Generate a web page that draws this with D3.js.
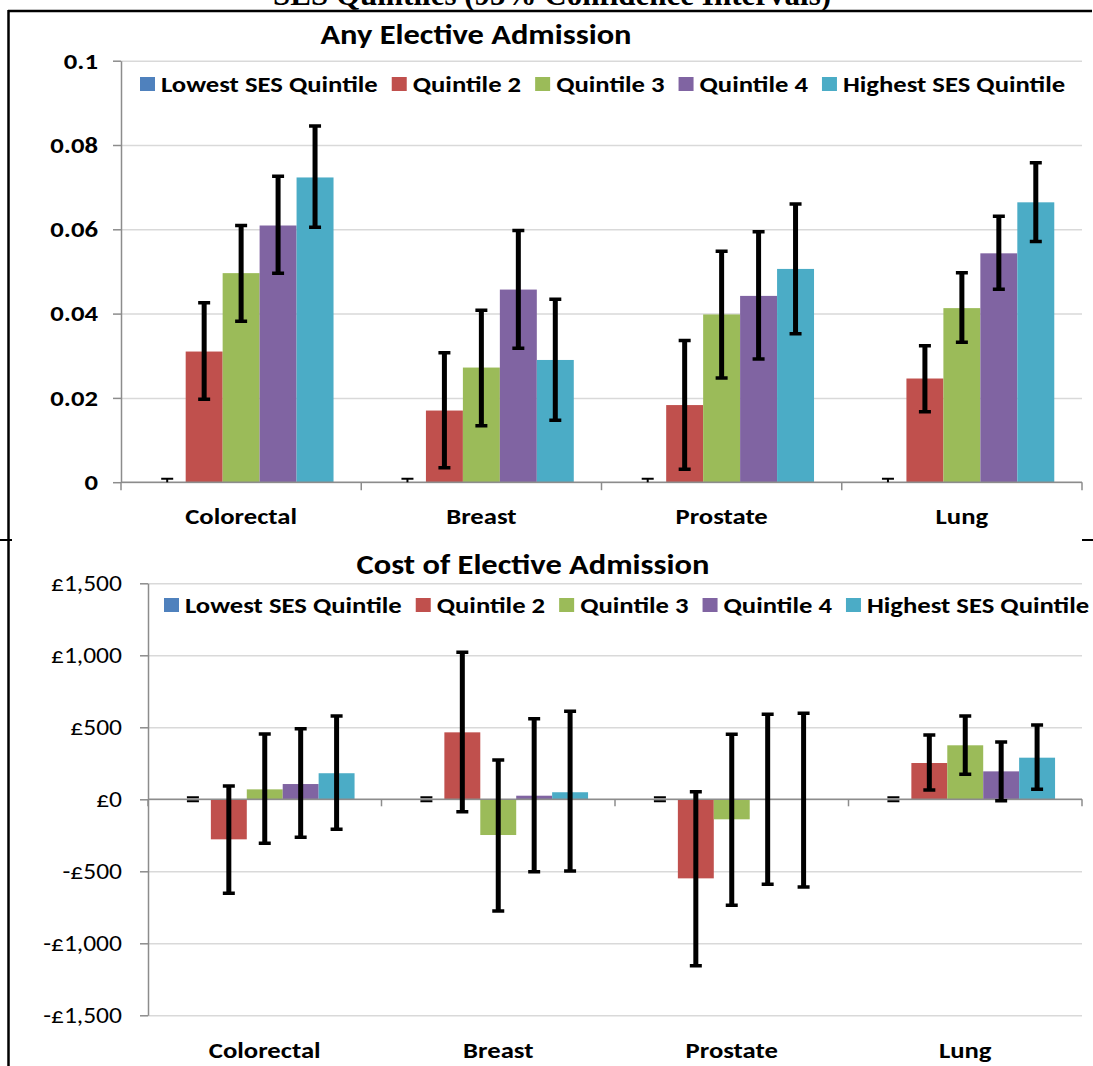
<!DOCTYPE html>
<html>
<head>
<meta charset="utf-8">
<script src="https://cdn.jsdelivr.net/npm/d3@7"></script>
<style>
  body { margin: 0; background: #fff; }
  svg { display: block; }
  text { font-family: Carlito, Calibri, Lato, sans-serif; fill: #000; }
</style>
</head>
<body>
<div id="chart"></div>
<script>
// categories and series
const categories = ["Colorectal", "Breast", "Prostate", "Lung"];
const seriesNames = ["Lowest SES Quintile", "Quintile 2", "Quintile 3", "Quintile 4", "Highest SES Quintile"];
const seriesColors = ["#4F81BD", "#C0504D", "#9BBB59", "#8064A2", "#4BACC6"];

// any elective admission (one row per series, one value per category)
const admitValues = [
  [0, 0, 0, 0],
  [0.0310, 0.0170, 0.0183, 0.0246],
  [0.0496, 0.0272, 0.0398, 0.0413],
  [0.0609, 0.0457, 0.0442, 0.0543],
  [0.0723, 0.0290, 0.0506, 0.0664]
];
const admitLow = [
  [-0.0008, -0.0008, -0.0008, -0.0008],
  [0.0197, 0.0034, 0.0031, 0.0167],
  [0.0382, 0.0134, 0.0247, 0.0332],
  [0.0496, 0.0318, 0.0292, 0.0458],
  [0.0605, 0.0147, 0.0352, 0.0571]
];
const admitHigh = [
  [0.0008, 0.0008, 0.0008, 0.0008],
  [0.0426, 0.0307, 0.0336, 0.0324],
  [0.0609, 0.0408, 0.0548, 0.0497],
  [0.0726, 0.0597, 0.0594, 0.0631],
  [0.0845, 0.0434, 0.0660, 0.0758]
];
const admitTicks = [0, 0.02, 0.04, 0.06, 0.08, 0.1];

// cost of elective admission
const costValues = [
  [0, 0, 0, 0],
  [-278, 465, -549, 252],
  [69, -248, -139, 375],
  [106, 25, -4, 194],
  [181, 49, -4, 289]
];
const costLow = [
  [-14, -14, -14, -14],
  [-653, -86, -1156, 65],
  [-306, -776, -736, 174],
  [-264, -503, -590, -10],
  [-208, -498, -609, 69]
];
const costHigh = [
  [14, 14, 14, 14],
  [92, 1021, 53, 447],
  [453, 273, 451, 578],
  [490, 560, 590, 398],
  [578, 611, 597, 516]
];
const costTicks = [-1500, -1000, -500, 0, 500, 1000, 1500];

// the source text is a little wider than Carlito, so stretch it sideways
const widen = 1.16;
function stretch(sel) {
  sel.each(function() {
    const w = this.getComputedTextLength();
    d3.select(this).attr("textLength", w * widen).attr("lengthAdjust", "spacingAndGlyphs");
  });
}

const svg = d3.select("#chart")
  .append("svg")
  .attr("width", 1093)
  .attr("height", 1066);

// page heading, cut off by the top of the picture
svg.append("text")
  .attr("x", 552)
  .attr("y", 5)
  .attr("text-anchor", "middle")
  .style("font-family", "'Liberation Serif', 'Times New Roman', serif")
  .style("font-weight", "bold")
  .style("font-size", "31px")
  .text("SES Quintiles (95% Confidence Intervals)");

// frame lines
svg.append("line").attr("x1", 8).attr("x2", 1092).attr("y1", 11).attr("y2", 11)
  .attr("stroke", "#000").attr("stroke-width", 2.5);
svg.append("line").attr("x1", 8.5).attr("x2", 8.5).attr("y1", 10).attr("y2", 1066)
  .attr("stroke", "#000").attr("stroke-width", 2.5);
svg.append("line").attr("x1", 0).attr("x2", 12).attr("y1", 540).attr("y2", 540)
  .attr("stroke", "#000").attr("stroke-width", 2);
svg.append("line").attr("x1", 1082).attr("x2", 1093).attr("y1", 540).attr("y2", 540)
  .attr("stroke", "#000").attr("stroke-width", 2);

function drawPanel(cfg) {
  const g = svg.append("g");

  const x0 = d3.scaleBand().domain(categories).range([cfg.left, cfg.right]);
  const bw = x0.bandwidth();
  const x1 = d3.scaleBand().domain(seriesNames)
    .range([bw * 0.75 / 6.5, bw * 5.75 / 6.5]);
  const y = d3.scaleLinear().domain(cfg.domain).range([cfg.bottom, cfg.top]);

  // gridlines
  g.append("g")
    .attr("transform", `translate(${cfg.left},0)`)
    .call(d3.axisLeft(y).tickValues(cfg.ticks).tickSize(-(cfg.right - cfg.left)).tickFormat(""))
    .call(a => a.select(".domain").remove())
    .call(a => a.selectAll("line").attr("stroke", "#d9d9d9").attr("stroke-width", 1.5));

  // y axis
  g.append("g")
    .attr("transform", `translate(${cfg.left},0)`)
    .call(d3.axisLeft(y).tickValues(cfg.ticks).tickSize(8).tickSizeOuter(0)
      .tickPadding(cfg.tickPad).tickFormat(cfg.format))
    .call(a => a.select(".domain").attr("stroke", "#8c8c8c").attr("stroke-width", 1.5))
    .call(a => a.selectAll("line").attr("stroke", "#8c8c8c").attr("stroke-width", 1.5))
    .call(a => a.selectAll("text")
      .style("font-family", "Carlito, Calibri, Lato, sans-serif")
      .style("font-size", cfg.tickFont)
      .style("font-weight", cfg.tickWeight)
      .call(stretch));

  // bars
  const cells = [];
  seriesNames.forEach((s, i) => {
    categories.forEach((c, j) => {
      cells.push({ s: s, i: i, c: c, v: cfg.values[i][j], lo: cfg.low[i][j], hi: cfg.high[i][j] });
    });
  });

  g.selectAll(".bar")
    .data(cells)
    .join("rect")
    .attr("x", d => x0(d.c) + x1(d.s))
    .attr("width", x1.bandwidth())
    .attr("y", d => y(Math.max(0, d.v)))
    .attr("height", d => Math.abs(y(d.v) - y(0)))
    .attr("fill", d => seriesColors[d.i]);

  // x axis line at zero, with ticks between categories
  const y0 = y(0);
  g.append("line")
    .attr("x1", cfg.left).attr("x2", cfg.right)
    .attr("y1", y0).attr("y2", y0)
    .attr("stroke", "#8c8c8c").attr("stroke-width", 1.5);
  const edges = categories.map(c => x0(c)).concat([cfg.right]);
  g.selectAll(".xtick")
    .data(edges)
    .join("line")
    .attr("x1", d => d).attr("x2", d => d)
    .attr("y1", y0).attr("y2", y0 + cfg.xTickLen)
    .attr("stroke", "#8c8c8c").attr("stroke-width", 1.5);

  // category labels
  g.selectAll(".cat")
    .data(categories)
    .join("text")
    .attr("x", d => x0(d) + bw / 2)
    .attr("y", cfg.labelY)
    .attr("text-anchor", "middle")
    .style("font-size", "23px")
    .style("font-weight", "bold")
    .text(d => d)
    .call(stretch);

  // error bars, clipped to the plot area
  const clipId = "clip" + cfg.id;
  g.append("clipPath").attr("id", clipId)
    .append("rect")
    .attr("x", cfg.left).attr("y", cfg.top)
    .attr("width", cfg.right - cfg.left).attr("height", cfg.bottom - cfg.top);
  const eb = g.append("g").attr("clip-path", `url(#${clipId})`)
    .selectAll(".err")
    .data(cells)
    .join("g")
    .attr("transform", d => `translate(${x0(d.c) + x1(d.s) + x1.bandwidth() / 2},0)`);
  const span = d => Math.abs(y(d.lo) - y(d.hi));
  // very short bars show only their two thin caps
  eb.filter(d => span(d) > 5)
    .append("line")
    .attr("y1", d => y(d.lo)).attr("y2", d => y(d.hi))
    .attr("stroke", "#000").attr("stroke-width", d => span(d) > 10 ? 5 : 2);
  eb.append("line")
    .attr("x1", -6).attr("x2", 6)
    .attr("y1", d => y(d.hi)).attr("y2", d => y(d.hi))
    .attr("stroke", "#000").attr("stroke-width", d => span(d) > 10 ? 3.5 : 2);
  eb.append("line")
    .attr("x1", -6).attr("x2", 6)
    .attr("y1", d => y(d.lo)).attr("y2", d => y(d.lo))
    .attr("stroke", "#000").attr("stroke-width", d => span(d) > 10 ? 3.5 : 2);

  // title
  g.append("text")
    .attr("x", cfg.titleX)
    .attr("y", cfg.titleY)
    .attr("text-anchor", "middle")
    .style("font-size", "28px")
    .style("font-weight", "bold")
    .text(cfg.title)
    .call(stretch);

  // legend, laid out left to right
  let lx = cfg.legendX;
  seriesNames.forEach((s, i) => {
    g.append("rect")
      .attr("x", lx).attr("y", cfg.legendY - 7)
      .attr("width", 15).attr("height", 14)
      .attr("fill", seriesColors[i]);
    const t = g.append("text")
      .attr("x", lx + 21)
      .attr("y", cfg.legendY)
      .attr("dy", "0.35em")
      .style("font-size", "23px")
      .style("font-weight", "bold")
      .text(s)
      .call(stretch);
    lx += 21 + (+t.attr("textLength")) + 14;
  });
}

drawPanel({
  id: "admit",
  title: "Any Elective Admission",
  titleX: 476, titleY: 44,
  left: 121, right: 1082, top: 60.7, bottom: 482.2,
  domain: [0, 0.1], ticks: admitTicks,
  format: d => d === 0 ? "0" : String(+d.toFixed(2)),
  tickPad: 15, tickFont: "23px", tickWeight: "bold",
  values: admitValues, low: admitLow, high: admitHigh,
  xTickLen: 8, labelY: 524,
  legendX: 140, legendY: 84
});

drawPanel({
  id: "cost",
  title: "Cost of Elective Admission",
  titleX: 533, titleY: 574,
  left: 148, right: 1082, top: 583.3, bottom: 1015.3,
  domain: [-1500, 1500], ticks: costTicks,
  format: d => (d < 0 ? "-" : "") + "£" + d3.format(",")(Math.abs(d)),
  tickPad: 18, tickFont: "22px", tickWeight: "normal",
  values: costValues, low: costLow, high: costHigh,
  xTickLen: 7, labelY: 1058,
  legendX: 164, legendY: 605
});
</script>
</body>
</html>
